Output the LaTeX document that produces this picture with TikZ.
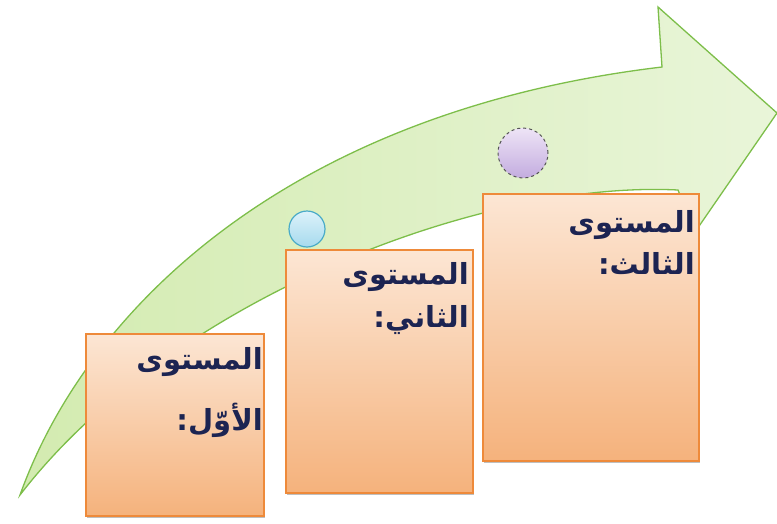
\documentclass[tikz,border=0pt]{standalone}
\usepackage{fontspec}
\newfontfamily\arabicfont[Script=Arabic]{DejaVu Sans}
\TeXXeTstate=1
\usetikzlibrary{shadows}
\definecolor{bandfillL}{HTML}{D3EBB0}
\definecolor{bandfillR}{HTML}{E9F5D9}
\definecolor{bandline}{HTML}{7DBE4A}
\definecolor{boxtop}{HTML}{FCE6D4}
\definecolor{boxbot}{HTML}{F5B27C}
\definecolor{boxline}{HTML}{EE8A3A}
\definecolor{navy}{HTML}{1C2452}
\definecolor{bluetop}{HTML}{DDF2FA}
\definecolor{bluebot}{HTML}{A6DAEE}
\definecolor{blueline}{HTML}{4AABC8}
\definecolor{purptop}{HTML}{EEE4F6}
\definecolor{purpbot}{HTML}{C3ACDF}
\definecolor{purpline}{HTML}{555555}
\tikzset{
  arrowband/.style={draw=bandline, line width=1.3pt, left color=bandfillL, right color=bandfillR, line join=miter},
  levelbox/.style={draw=boxline, line width=1.8pt, top color=boxtop, bottom color=boxbot, inner sep=0pt, anchor=north west,
    drop shadow={shadow xshift=1.5pt, shadow yshift=-2pt, opacity=0.25, fill=black}},
  bluedot/.style={circle, draw=blueline, line width=1.2pt, top color=bluetop, bottom color=bluebot, minimum size=36pt, inner sep=0pt},
  purpledot/.style={circle, draw=purpline, dashed, line width=1pt, top color=purptop, bottom color=purpbot, minimum size=50pt, inner sep=0pt},
  lbl/.style={text=navy, font=\arabicfont\bfseries\fontsize{29}{34}\selectfont, inner sep=0pt, anchor=base east}
}
\begin{document}
\begin{tikzpicture}[x=1pt,y=-1pt]
\useasboundingbox (0,0) rectangle (777,523);
% curved arrow
\path[arrowband] (20,495) .. controls (90,300) and (300,110) .. (662,67)
  -- (658,7) -- (777,113) -- (695,232) -- (678,190)
  .. controls (480,180) and (170,300) .. (20,495) -- cycle;
% boxes
\node[levelbox, minimum width=178pt, minimum height=182pt] (b1) at (85,333) {};
\node[levelbox, minimum width=187pt, minimum height=243pt] (b2) at (285,249) {};
\node[levelbox, minimum width=216pt, minimum height=267pt] (b3) at (482,193) {};
% circles
\node[bluedot] (c1) at (307,229) {};
\node[purpledot] (c2) at (523,153) {};
% labels
\node[lbl] (t1a) at (263,369) {\beginR المستوى\endR};
\node[lbl] (t1b) at (263,430) {\beginR الأوّل:\endR};
\node[lbl] (t2a) at (469,284) {\beginR المستوى\endR};
\node[lbl] (t2b) at (469,327) {\beginR الثاني:\endR};
\node[lbl] (t3a) at (695,232) {\beginR المستوى\endR};
\node[lbl] (t3b) at (695,274) {\beginR الثالث:\endR};
\end{tikzpicture}
\end{document}
